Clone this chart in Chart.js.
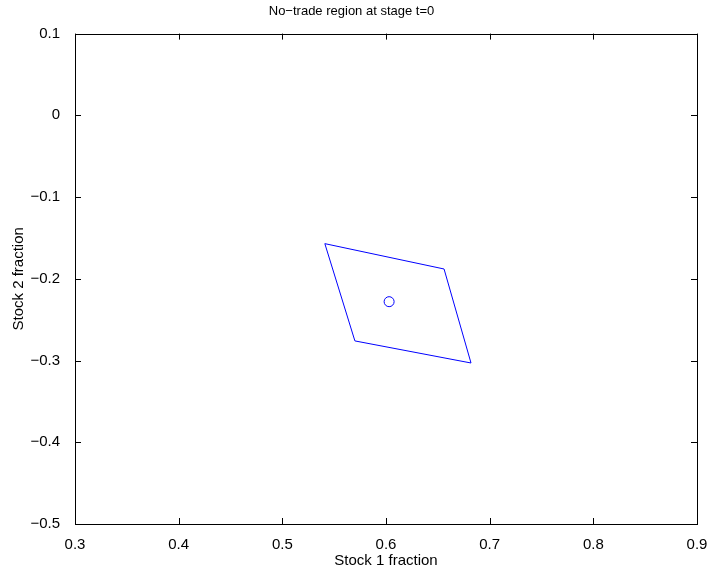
<!DOCTYPE html>
<html>
<head>
<meta charset="utf-8">
<script src="https://cdn.jsdelivr.net/npm/chart.js@4.4.0/dist/chart.umd.min.js"></script>
<style>
html, body { margin: 0; padding: 0; background: #fff; }
</style>
</head>
<body>
<canvas id="chart" width="713" height="572"></canvas>
<script>
// no-trade region corners (closed polygon), stock 1 / stock 2 fractions
const regionX = [0.541, 0.656, 0.682, 0.570, 0.541];
const regionY = [-0.157, -0.188, -0.303, -0.276, -0.157];
// optimal point inside the region
const centerX = [0.603];
const centerY = [-0.228];

const xTicks = [0.3, 0.4, 0.5, 0.6, 0.7, 0.8, 0.9];
const yTicks = [-0.5, -0.4, -0.3, -0.2, -0.1, 0, 0.1];

const FONT = 'Liberation Sans, Arial, Helvetica, sans-serif';

function fmt(v) {
    if (Math.abs(v) < 1e-9) return '0';
    return v.toFixed(1).replace('-', '\u2212');
}

// matlab style box with inward ticks on all four sides
const boxPlugin = {
    id: 'box',
    afterDraw(chart) {
        const ctx = chart.ctx;
        const a = chart.chartArea;
        const xs = chart.scales.x, ys = chart.scales.y;
        const len = 6;
        ctx.save();
        ctx.strokeStyle = '#000';
        ctx.lineWidth = 1;
        ctx.beginPath();
        xTicks.forEach(v => {
            const px = Math.round(xs.getPixelForValue(v)) + 0.5;
            ctx.moveTo(px, a.bottom); ctx.lineTo(px, a.bottom - len);
            ctx.moveTo(px, a.top); ctx.lineTo(px, a.top + len);
        });
        yTicks.forEach(v => {
            const py = Math.round(ys.getPixelForValue(v)) + 0.5;
            ctx.moveTo(a.left, py); ctx.lineTo(a.left + len, py);
            ctx.moveTo(a.right, py); ctx.lineTo(a.right - len, py);
        });
        ctx.stroke();
        ctx.strokeRect(Math.round(a.left) + 0.5, Math.round(a.top) + 0.5,
            Math.round(a.right - a.left), Math.round(a.bottom - a.top));
        ctx.restore();
    }
};

const regionPoints = regionX.map((x, i) => ({ x: x, y: regionY[i] }));
const centerPoints = centerX.map((x, i) => ({ x: x, y: centerY[i] }));

new Chart(document.getElementById('chart').getContext('2d'), {
    type: 'scatter',
    data: {
        datasets: [
            {
                data: regionPoints,
                showLine: true,
                borderColor: '#0000ff',
                borderWidth: 1,
                pointRadius: 0,
                fill: false,
                tension: 0
            },
            {
                data: centerPoints,
                pointStyle: 'circle',
                pointRadius: 5,
                pointBorderColor: '#0000ff',
                pointBackgroundColor: 'rgba(0,0,0,0)',
                pointBorderWidth: 1
            }
        ]
    },
    options: {
        responsive: false,
        animation: false,
        devicePixelRatio: 1,
        layout: { padding: { left: 6, right: 16, top: 0, bottom: 0 } },
        plugins: {
            legend: { display: false },
            tooltip: { enabled: false },
            title: {
                display: true,
                text: 'No\u2212trade region at stage t=0',
                color: '#000',
                font: { family: FONT, size: 13, weight: 'normal' },
                padding: { top: 4, bottom: 14 }
            }
        },
        scales: {
            x: {
                type: 'linear',
                min: 0.3,
                max: 0.9,
                afterBuildTicks: s => { s.ticks = xTicks.map(v => ({ value: v })); },
                grid: { display: false },
                border: { display: false },
                ticks: {
                    color: '#000',
                    padding: 4,
                    maxRotation: 0,
                    font: { family: FONT, size: 15 },
                    callback: v => fmt(v)
                },
                title: {
                    display: true,
                    text: 'Stock 1 fraction',
                    color: '#000',
                    font: { family: FONT, size: 15 },
                    padding: { top: 2, bottom: 2 }
                },
                afterFit: s => { s.height = 48; }
            },
            y: {
                type: 'linear',
                min: -0.5,
                max: 0.1,
                afterBuildTicks: s => { s.ticks = yTicks.map(v => ({ value: v })); },
                grid: { display: false },
                border: { display: false },
                ticks: {
                    color: '#000',
                    padding: 7,
                    font: { family: FONT, size: 15 },
                    callback: v => fmt(v)
                },
                title: {
                    display: true,
                    text: 'Stock 2 fraction',
                    color: '#000',
                    font: { family: FONT, size: 15 },
                    padding: { top: 4, bottom: 0 }
                },
                afterFit: s => { s.width = 69; }
            }
        }
    },
    plugins: [boxPlugin]
});
</script>
</body>
</html>
